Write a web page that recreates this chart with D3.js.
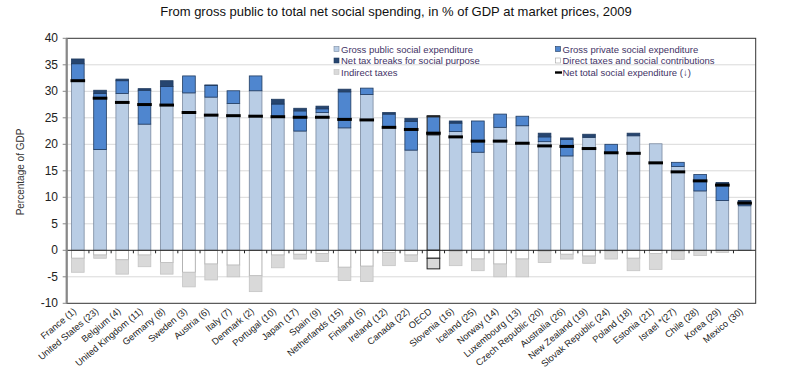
<!DOCTYPE html>
<html><head><meta charset="utf-8">
<script src="https://cdn.jsdelivr.net/npm/d3@7"></script>
<style>body{margin:0;background:#fff;font-family:"Liberation Sans",Arial,sans-serif;}</style>
</head><body><svg id="c" width="785" height="381"></svg>
<script>
const countries = ["France (1)","United States (23)","Belgium (4)","United Kingdom (11)","Germany (8)","Sweden (3)","Austria (6)","Italy (7)","Denmark (2)","Portugal (10)","Japan (17)","Spain (9)","Netherlands (15)","Finland (5)","Ireland (12)","Canada (22)","OECD","Slovenia (16)","Iceland (25)","Norway (14)","Luxembourg (13)","Czech Republic (20)","Australia (26)","New Zealand (19)","Slovak Republic (24)","Poland (18)","Estonia (21)","Israel *(27)","Chile (28)","Korea (29)","Mexico (30)"];
const grossPublic   = [32.0,19.0,29.6,23.8,27.4,29.7,28.9,27.7,30.1,25.3,22.5,26.0,23.1,29.4,23.3,18.9,21.8,22.4,18.5,23.2,23.5,20.5,17.8,21.3,18.4,21.6,20.1,15.8,11.2, 9.4, 8.4];
const grossPrivate  = [ 3.2,10.6, 2.4, 6.4, 3.5, 3.2, 2.2, 2.4, 2.8, 2.3, 3.8, 0.7, 6.8, 1.2, 2.4, 5.4, 3.4, 1.6, 5.9, 2.5, 1.8, 0.9, 3.1, 0.0, 1.6, 0.0, 0.0, 0.8, 3.1, 3.1, 0.7];
const netTaxBreaks  = [ 0.9, 0.6, 0.3, 0.3, 1.1, 0.0, 0.1, 0.0, 0.0, 0.9, 0.5, 0.5, 0.5, 0.0, 0.3, 0.6, 0.2, 0.4, 0.0, 0.0, 0.0, 0.7, 0.3, 0.6, 0.0, 0.5, 0.0, 0.0, 0.0, 0.3, 0.3];
const directTaxes   = [-1.5,-0.9,-1.8,-0.9,-2.3,-4.15,-2.6,-2.8,-4.8,-0.9,-0.75,-0.6,-3.2,-3.0,-0.4,-0.9,-1.5,-0.25,-1.65,-2.6,-1.65,-0.25,-0.75,-1.1,-0.15,-1.5,-0.6,-0.25,0.0,0.0,0.0];
const indirectTaxes = [-2.65,-0.6,-2.7,-2.2,-2.2,-2.75,-3.0,-2.2,-3.0,-2.4,-0.9,-1.5,-2.5,-2.9,-2.5,-1.2,-2.0,-2.65,-2.2,-2.4,-3.35,-2.05,-0.9,-1.35,-1.5,-2.35,-3.0,-1.45,-1.0,-0.4,-0.05];
const netTotal      = [32.0,28.7,27.9,27.5,27.4,26.0,25.5,25.4,25.3,25.2,25.1,25.1,24.7,24.6,23.2,22.8,22.1,21.4,20.6,20.6,20.2,19.7,19.6,19.2,18.4,18.3,16.5,14.8,13.1,12.3, 8.9];
const yTicks = [40,35,30,25,20,15,10,5,0,-5,-10];
const title = "From gross public to total net social spending, in % of GDP at market prices, 2009";
const legendItems = [
  {label:"Gross public social expenditure", key:"pub"},
  {label:"Gross private social expenditure", key:"priv"},
  {label:"Net tax breaks for social purpose", key:"tb"},
  {label:"Direct taxes and social contributions", key:"dir"},
  {label:"Indirect taxes", key:"ind"},
  {label:"Net total social expenditure (\u2193)", key:"net"}
];

const col = {pub:"#b9cde5", priv:"#4f86cf", tb:"#26456f", dir:"#ffffff", ind:"#d9d9d9", net:"#000"};
const stroke = {pub:"#7b8aa0", priv:"#1f3a5f", tb:"#1f3a5f", dir:"#a0a0a0", ind:"#c4c4c4"};

const svg = d3.select("#c");
const L = 66.7, R = 755.7, T = 38.3, B = 303.3;
const x = d3.scaleBand().domain(countries).range([L, R]).paddingInner(0.43).paddingOuter(0.215);
const y = d3.scaleLinear().domain([-10, 40]).range([B, T]);

svg.append("text").attr("x", 396).attr("y", 16).attr("text-anchor","middle")
  .attr("font-size", 13).attr("fill","#111").text(title);

// grid
svg.append("g").selectAll("line").data(yTicks.filter(d => d !== 0 && d !== 40 && d !== -10)).join("line")
  .attr("x1", L).attr("x2", R).attr("y1", d => y(d)).attr("y2", d => y(d))
  .attr("stroke", "#d9d9d9").attr("stroke-width", 1);

// legend
const lg = svg.append("g").attr("font-size", 9.5).attr("fill", "#3f3366");
legendItems.forEach((it, i) => {
  const cx = (i % 2 === 0) ? 333.5 : 555;
  const cy = 49.5 + Math.floor(i / 2) * 11.5;
  if (it.key === "net") {
    lg.append("rect").attr("x", cx).attr("y", cy - 1.2).attr("width", 7).attr("height", 2.4).attr("fill", "#000");
  } else {
    lg.append("rect").attr("x", cx + 0.5).attr("y", cy - 3).attr("width", 5).attr("height", 5)
      .attr("fill", col[it.key]).attr("stroke", stroke[it.key]).attr("stroke-width", 0.6);
  }
  lg.append("text").attr("x", cx + 7.5).attr("y", cy + 3.4).text(it.label);
});

// bars
const bw = x.bandwidth();
const bars = svg.append("g");
countries.forEach((c, i) => {
  const segs = [
    {k:"pub", a:0, b:grossPublic[i]},
    {k:"priv", a:grossPublic[i], b:grossPublic[i] + grossPrivate[i]},
    {k:"tb", a:grossPublic[i] + grossPrivate[i], b:grossPublic[i] + grossPrivate[i] + netTaxBreaks[i]},
    {k:"dir", a:directTaxes[i], b:0},
    {k:"ind", a:directTaxes[i] + indirectTaxes[i], b:directTaxes[i]}
  ];
  const isO = c === "OECD";
  segs.forEach(s => {
    const h = Math.abs(y(s.a) - y(s.b));
    if (h < 0.05) return;
    bars.append("rect").attr("x", x(c)).attr("width", bw)
      .attr("y", Math.min(y(s.a), y(s.b))).attr("height", h)
      .attr("fill", col[s.k]).attr("stroke", isO ? "#222" : stroke[s.k]).attr("stroke-width", isO ? 1 : 0.8);
  });
});

// zero axis with ticks
svg.append("line").attr("x1", L).attr("x2", R).attr("y1", y(0)).attr("y2", y(0)).attr("stroke", "#222").attr("stroke-width", 1);
svg.append("g").selectAll("line").data(d3.range(1, countries.length)).join("line")
  .attr("x1", i => L + i * (R - L) / countries.length).attr("x2", i => L + i * (R - L) / countries.length)
  .attr("y1", y(0)).attr("y2", y(0) + 3).attr("stroke", "#222");

// net total markers
svg.append("g").selectAll("rect").data(countries).join("rect")
  .attr("x", d => x(d) + bw / 2 - 7.3).attr("width", 14.6)
  .attr("y", (d, i) => y(netTotal[i]) - 1.5).attr("height", 3).attr("fill", "#000");

// frame
svg.append("rect").attr("x", L).attr("y", T).attr("width", R - L).attr("height", B - T)
  .attr("fill", "none").attr("stroke", "#333").attr("stroke-width", 1);
svg.append("line").attr("x1", L).attr("x2", L).attr("y1", T).attr("y2", B).attr("stroke", "#888").attr("stroke-width", 2.2);

// y axis ticks and labels
const ya = svg.append("g");
ya.selectAll("line").data(yTicks).join("line")
  .attr("x1", L - 4).attr("x2", L).attr("y1", d => y(d)).attr("y2", d => y(d)).attr("stroke", "#888");
ya.selectAll("text").data(yTicks).join("text")
  .attr("x", 58).attr("y", d => y(d) + 4).attr("text-anchor", "end")
  .attr("font-size", 12).attr("fill", "#222").text(d => d);

svg.append("text").attr("transform", `translate(24,172) rotate(-90)`).attr("text-anchor", "middle")
  .attr("font-size", 10).attr("fill", "#333").text("Percentage of GDP");

// x labels
svg.append("g").selectAll("text").data(countries).join("text")
  .attr("transform", d => `translate(${x(d) + bw / 2 - 1},${B + 9}) rotate(-40)`)
  .attr("text-anchor", "end").attr("font-size", 9.3).attr("fill", "#222").text(d => d);
</script></body></html>
